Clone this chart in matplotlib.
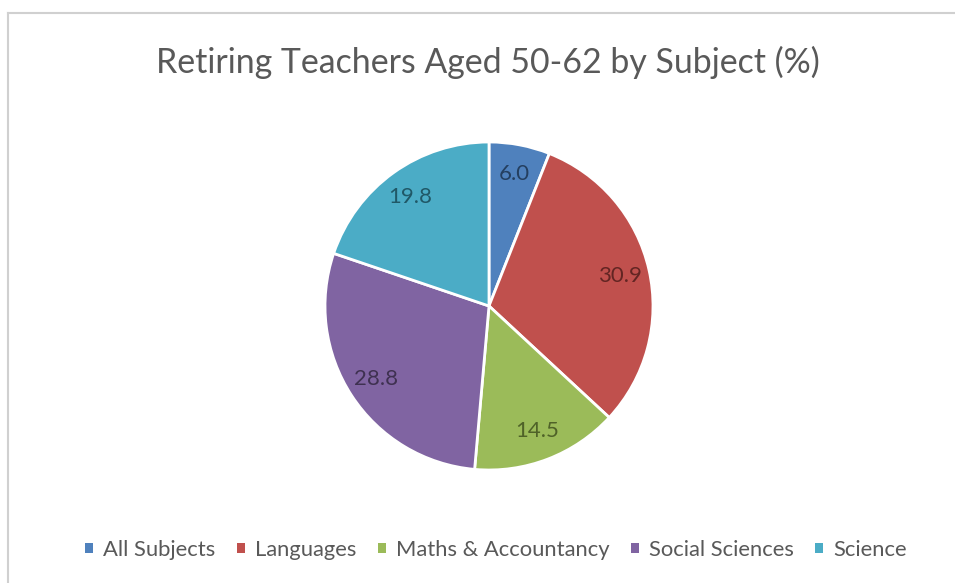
import matplotlib
matplotlib.use("Agg")
import matplotlib.pyplot as plt
from matplotlib.lines import Line2D
from matplotlib.patches import Patch

plt.rcParams['font.family'] = ['Lato', 'DejaVu Sans']

title = "Retiring Teachers Aged 50-62 by Subject (%)"
categories = ["All Subjects", "Languages", "Maths & Accountancy", "Social Sciences", "Science"]
values = [6.0, 30.9, 14.5, 28.8, 19.8]
colors = ["#4F81BD", "#C0504D", "#9BBB59", "#8064A2", "#4BACC6"]
label_colors = ["#243F60", "#632523", "#4F6228", "#3F3151", "#205867"]

W, H = 955, 583
fig = plt.figure(figsize=(W / 100, H / 100), dpi=100)
fig.patch.set_facecolor("white")

# chart frame (top and left edges)
frame_c = "#D0D0D0"
fig.add_artist(Line2D([7.5 / W, 7.5 / W], [0, 1 - 12.5 / H], transform=fig.transFigure,
                      color=frame_c, lw=1.5))
fig.add_artist(Line2D([7.5 / W, 1], [1 - 12.5 / H, 1 - 12.5 / H], transform=fig.transFigure,
                      color=frame_c, lw=1.5))

# pie
cx, cy, r = 489, 306, 164
ax = fig.add_axes([(cx - r) / W, (H - cy - r) / H, 2 * r / W, 2 * r / H])
wedges, texts, autotexts = ax.pie(
    values, colors=colors, startangle=90, counterclock=False,
    autopct=lambda p: "", pctdistance=0.82,
    wedgeprops=dict(edgecolor="white", linewidth=2.0),
)
for wedge_text, v, lc in zip(autotexts, values, label_colors):
    wedge_text.set_text(f"{v:.1f}")
    wedge_text.set_color(lc)
    wedge_text.set_fontsize(16)
ax.set_xlim(-1.0, 1.0)
ax.set_ylim(-1.0, 1.0)
ax.set_aspect("equal")
ax.axis("off")

fig.text(488 / W, 1 - 62 / H, title, ha="center", va="center",
         fontsize=24.4, color="#595959")

handles = [Patch(facecolor=c, edgecolor="none") for c in colors]
fig.legend(handles, categories, loc="center", bbox_to_anchor=(496 / W, 1 - 550 / H),
           ncol=5, frameon=False, fontsize=15.8, labelcolor="#595959",
           handlelength=0.35, handleheight=0.35, handletextpad=0.45, columnspacing=1.0,
           borderpad=0.2)

fig.savefig("out.png", dpi=100)
